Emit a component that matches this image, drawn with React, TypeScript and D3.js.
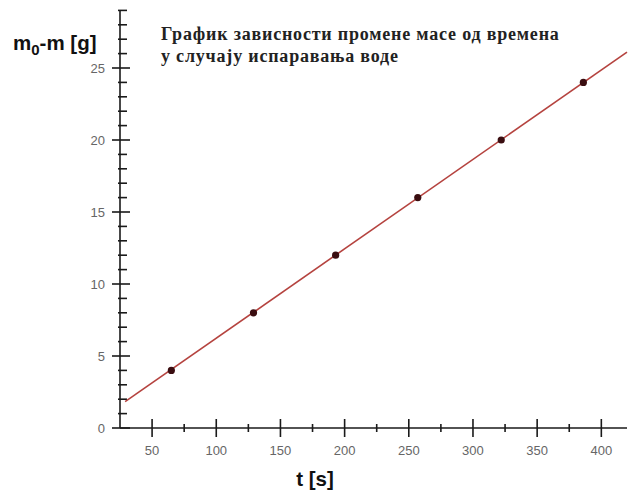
import React, { useEffect, useRef } from "react";
import * as d3 from "d3";

const timeValues = [65, 129, 193, 257, 322, 386];
const massValues = [4, 8, 12, 16, 20, 24];
const fitT = [29, 420];
const fitM = [1.83, 26.1];
const xMajorTicks = [50, 100, 150, 200, 250, 300, 350, 400];
const yMajorTicks = [0, 5, 10, 15, 20, 25];
const titleLines = ["График зависности промене масе од времена", "у случају испаравања воде"];

const W = 628;
const H = 493;

export default function App() {
  const ref = useRef<SVGSVGElement | null>(null);

  useEffect(() => {
    const svg = d3.select(ref.current);
    svg.selectAll("*").remove();

    const x = d3.scaleLinear().domain([25, 420]).range([120, 627]);
    const y = d3.scaleLinear().domain([0, 29]).range([428, 10.4]);

    const axisColor = "#1a1a1a";
    const labelColor = "#666";

    // x axis
    svg.append("line").attr("x1", x(25)).attr("x2", x(420)).attr("y1", y(0)).attr("y2", y(0))
      .attr("stroke", axisColor).attr("stroke-width", 1.6);
    const xMinor = d3.range(75, 420, 50);
    svg.selectAll(".xminor").data(xMinor).enter().append("line")
      .attr("x1", (d) => x(d)).attr("x2", (d) => x(d))
      .attr("y1", y(0) - 4).attr("y2", y(0) + 4)
      .attr("stroke", axisColor).attr("stroke-width", 1.6);
    svg.selectAll(".xmajor").data(xMajorTicks).enter().append("line")
      .attr("x1", (d) => x(d)).attr("x2", (d) => x(d))
      .attr("y1", y(0) - 9).attr("y2", y(0) + 9)
      .attr("stroke", axisColor).attr("stroke-width", 1.6);
    svg.selectAll(".xlab").data(xMajorTicks).enter().append("text")
      .attr("x", (d) => x(d)).attr("y", 455)
      .attr("text-anchor", "middle")
      .attr("font-family", "Liberation Sans, Arial, sans-serif")
      .attr("font-size", 13).attr("fill", labelColor)
      .text((d) => String(d));

    // y axis
    svg.append("line").attr("x1", x(25)).attr("x2", x(25)).attr("y1", y(0)).attr("y2", y(29))
      .attr("stroke", axisColor).attr("stroke-width", 1.6);
    const yMinor = d3.range(1, 30).filter((v) => v % 5 !== 0);
    svg.selectAll(".yminor").data(yMinor).enter().append("line")
      .attr("x1", x(25) - 2).attr("x2", x(25) + 7)
      .attr("y1", (d) => y(d)).attr("y2", (d) => y(d))
      .attr("stroke", axisColor).attr("stroke-width", 1.6);
    svg.selectAll(".ymajor").data(yMajorTicks).enter().append("line")
      .attr("x1", x(25) - 8).attr("x2", x(25) + 10)
      .attr("y1", (d) => y(d)).attr("y2", (d) => y(d))
      .attr("stroke", axisColor).attr("stroke-width", 1.6);
    svg.selectAll(".ylab").data(yMajorTicks).enter().append("text")
      .attr("x", 105).attr("y", (d) => y(d))
      .attr("dy", "0.35em")
      .attr("text-anchor", "end")
      .attr("font-family", "Liberation Sans, Arial, sans-serif")
      .attr("font-size", 13).attr("fill", labelColor)
      .text((d) => String(d));

    // fit line
    const fitData = fitT.map((t, i) => [t, fitM[i]] as [number, number]);
    svg.append("path")
      .attr("d", d3.line<[number, number]>().x((d) => x(d[0])).y((d) => y(d[1]))(fitData) || "")
      .attr("fill", "none").attr("stroke", "#b5433f").attr("stroke-width", 1.6);

    // points
    svg.selectAll(".pt").data(timeValues).enter().append("circle")
      .attr("cx", (d) => x(d)).attr("cy", (_d, i) => y(massValues[i]))
      .attr("r", 3.6).attr("fill", "#3a0d10");

    // axis titles
    const yt = svg.append("text").attr("x", 13).attr("y", 50)
      .attr("font-family", "Liberation Sans, Arial, sans-serif")
      .attr("font-weight", "bold").attr("font-size", 20.5).attr("fill", "#111");
    yt.append("tspan").text("m");
    yt.append("tspan").attr("dy", 5).attr("font-size", 15).text("0");
    yt.append("tspan").attr("dy", -5).text("-m [g]");

    svg.append("text").attr("x", 315).attr("y", 486)
      .attr("text-anchor", "middle")
      .attr("font-family", "Liberation Sans, Arial, sans-serif")
      .attr("font-weight", "bold").attr("font-size", 20.5).attr("fill", "#111")
      .text("t [s]");

    // title
    titleLines.forEach((line, i) => {
      svg.append("text").attr("x", 161).attr("y", 40 + i * 22)
        .attr("font-family", "Liberation Serif, Times New Roman, serif")
        .attr("font-weight", "bold").attr("font-size", 18)
        .attr("letter-spacing", 0.8).attr("fill", "#222")
        .text(line);
    });
  }, []);

  return (
    <svg
      ref={ref}
      width={W}
      height={H}
      style={{ position: "absolute", left: 0, top: 0, background: "#fff" }}
    />
  );
}
